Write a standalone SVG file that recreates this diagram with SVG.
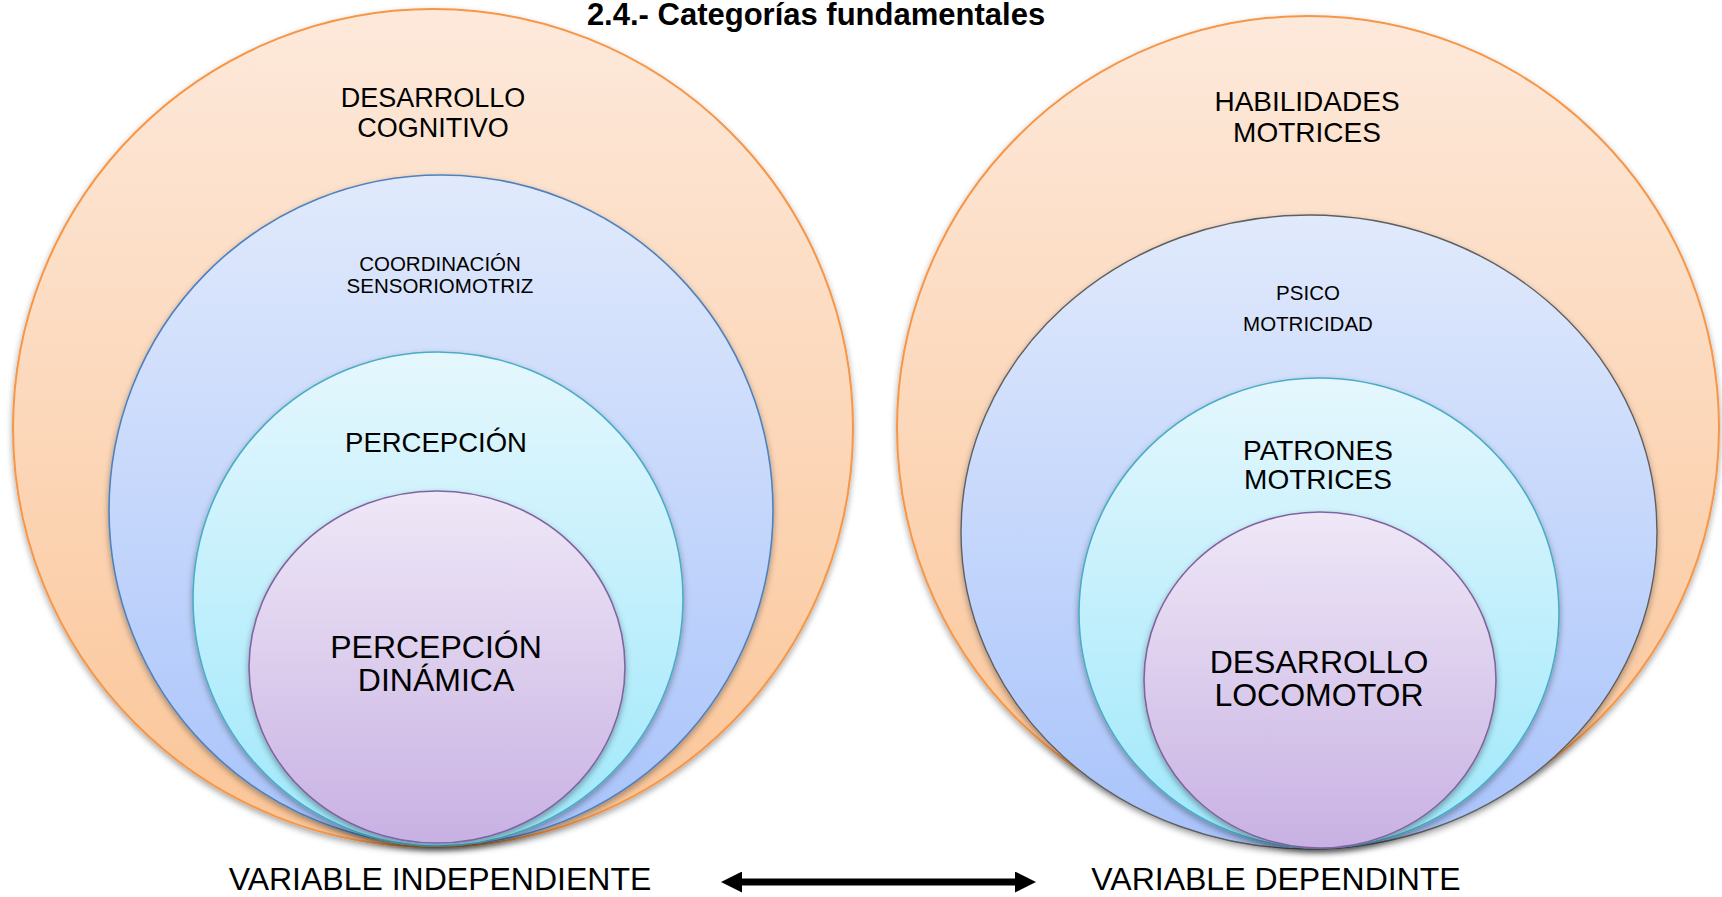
<svg xmlns="http://www.w3.org/2000/svg" width="1722" height="897" viewBox="0 0 1722 897">
  <defs>
    <linearGradient id="gO" x1="0" y1="0" x2="0" y2="1">
      <stop offset="0" stop-color="#fde9db"/>
      <stop offset="1" stop-color="#fbc597"/>
    </linearGradient>
    <linearGradient id="gB" x1="0" y1="0" x2="0" y2="1">
      <stop offset="0" stop-color="#e1eafc"/>
      <stop offset="1" stop-color="#a8c3fb"/>
    </linearGradient>
    <linearGradient id="gC" x1="0" y1="0" x2="0" y2="1">
      <stop offset="0" stop-color="#e5f7fd"/>
      <stop offset="1" stop-color="#9ee8fb"/>
    </linearGradient>
    <linearGradient id="gP" x1="0" y1="0" x2="0" y2="1">
      <stop offset="0" stop-color="#efe8f7"/>
      <stop offset="1" stop-color="#c8b1e3"/>
    </linearGradient>
    <filter id="sh" x="-10%" y="-10%" width="120%" height="125%">
      <feDropShadow dx="0" dy="3" stdDeviation="3" flood-color="#000" flood-opacity="0.35"/>
    </filter>
    <marker id="ah" viewBox="0 0 10 10" refX="0" refY="5" markerWidth="3" markerHeight="3" orient="auto-start-reverse" markerUnits="strokeWidth">
      <path d="M0,0 L10,5 L0,10 Z" fill="#000"/>
    </marker>
  </defs>
  <style>
    .t { font-family: "Liberation Sans", Arial, sans-serif; fill: #000; text-anchor: middle; }
    .o { fill: url(#gO); stroke: #f79646; stroke-width: 2; filter: url(#sh); }
    .b { fill: url(#gB); stroke: #4f81bd; stroke-width: 1.6; filter: url(#sh); }
    .b2 { fill: url(#gB); stroke: #5f5f5f; stroke-width: 1.4; filter: url(#sh); }
    .c { fill: url(#gC); stroke: #4bacc6; stroke-width: 1.6; filter: url(#sh); }
    .p { fill: url(#gP); stroke: #8064a2; stroke-width: 1.6; filter: url(#sh); }
  </style>
  <rect x="0" y="0" width="1722" height="897" fill="#fff"/>

  <g id="left-outer">
    <ellipse class="o" cx="433" cy="428" rx="420" ry="419"/>
    <text class="t" x="433" y="107" font-size="27">DESARROLLO</text>
    <text class="t" x="433" y="137" font-size="27">COGNITIVO</text>
  </g>
  <g id="left-blue">
    <ellipse class="b" cx="441" cy="510" rx="332" ry="335"/>
    <text class="t" x="440" y="271" font-size="20.5">COORDINACIÓN</text>
    <text class="t" x="440" y="293" font-size="20.5">SENSORIOMOTRIZ</text>
  </g>
  <g id="left-cyan">
    <ellipse class="c" cx="438" cy="599" rx="245" ry="247"/>
    <text class="t" x="436" y="452" font-size="27.5">PERCEPCIÓN</text>
  </g>
  <g id="left-purple">
    <ellipse class="p" cx="437" cy="667" rx="188" ry="176"/>
    <text class="t" x="436" y="658" font-size="32">PERCEPCIÓN</text>
    <text class="t" x="436" y="691" font-size="32">DINÁMICA</text>
  </g>

  <g id="right-outer">
    <ellipse class="o" cx="1308" cy="428" rx="411" ry="412"/>
    <text class="t" x="1307" y="111" font-size="28">HABILIDADES</text>
    <text class="t" x="1307" y="142" font-size="28">MOTRICES</text>
  </g>
  <g id="right-blue">
    <ellipse class="b2" cx="1309" cy="532" rx="348" ry="317"/>
    <text class="t" x="1308" y="300" font-size="20.5">PSICO</text>
    <text class="t" x="1308" y="331" font-size="20.5">MOTRICIDAD</text>
  </g>
  <g id="right-cyan">
    <ellipse class="c" cx="1319" cy="613" rx="240" ry="235"/>
    <text class="t" x="1318" y="460" font-size="28">PATRONES</text>
    <text class="t" x="1318" y="489" font-size="28">MOTRICES</text>
  </g>
  <g id="right-purple">
    <ellipse class="p" cx="1320" cy="680" rx="176" ry="168"/>
    <text class="t" x="1319" y="673" font-size="32">DESARROLLO</text>
    <text class="t" x="1319" y="706" font-size="32">LOCOMOTOR</text>
  </g>

  <g id="title">
    <text class="t" x="816" y="25" font-size="31" font-weight="bold">2.4.- Categorías fundamentales</text>
  </g>
  <g id="label-independiente">
    <text class="t" x="440" y="890" font-size="32">VARIABLE INDEPENDIENTE</text>
  </g>
  <g id="label-dependiente">
    <text class="t" x="1276" y="890" font-size="32">VARIABLE DEPENDINTE</text>
  </g>

  <g id="connectors">
    <line x1="742" y1="882" x2="1015" y2="882" stroke="#000" stroke-width="7" marker-start="url(#ah)" marker-end="url(#ah)"/>
  </g>
</svg>
